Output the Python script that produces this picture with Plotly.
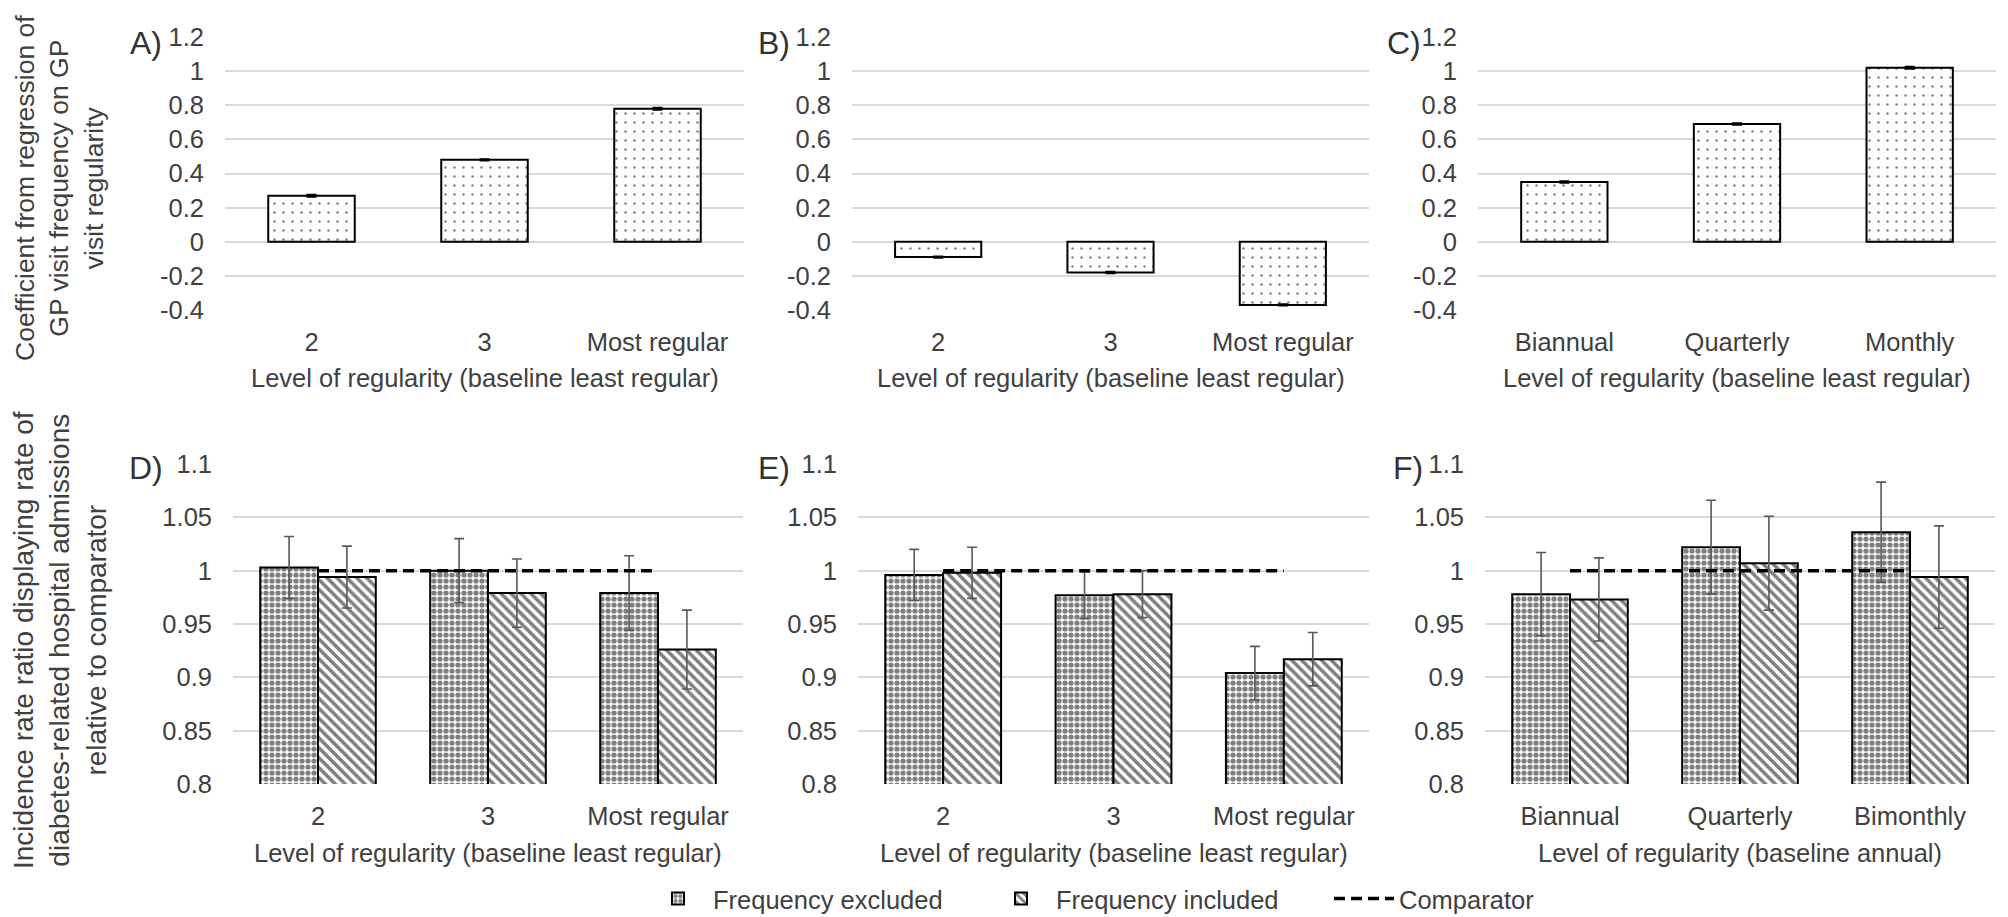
import plotly.graph_objects as go

# ---------------- data ----------------
cats_ab = ["2", "3", "Most regular"]
cats_c = ["Biannual", "Quarterly", "Monthly"]
cats_f = ["Biannual", "Quarterly", "Bimonthly"]

coef_a = [0.27, 0.48, 0.78]
coef_a_err = [0.006, 0.004, 0.006]
coef_b = [-0.09, -0.18, -0.37]
coef_b_err = [0.004, 0.004, 0.004]
coef_c = [0.35, 0.69, 1.02]
coef_c_err = [0.004, 0.004, 0.006]

irr_d_excl = [1.003, 1.000, 0.979]
irr_d_excl_err = [0.029, 0.030, 0.035]
irr_d_incl = [0.994, 0.979, 0.926]
irr_d_incl_err = [0.029, 0.032, 0.037]
irr_e_excl = [0.996, 0.977, 0.904]
irr_e_excl_err = [0.024, 0.022, 0.025]
irr_e_incl = [0.998, 0.978, 0.917]
irr_e_incl_err = [0.024, 0.022, 0.025]
irr_f_excl = [0.978, 1.022, 1.036]
irr_f_excl_err = [0.039, 0.044, 0.047]
irr_f_incl = [0.973, 1.007, 0.994]
irr_f_incl_err = [0.039, 0.044, 0.048]
comparator = [1, 1, 1]

top_tickvals = [-0.4, -0.2, 0, 0.2, 0.4, 0.6, 0.8, 1.0, 1.2]
top_ticktext = ["-0.4", "-0.2", "0", "0.2", "0.4", "0.6", "0.8", "1", "1.2"]
bot_tickvals = [0.8, 0.85, 0.9, 0.95, 1.0, 1.05, 1.1]
bot_ticktext = ["0.8", "0.85", "0.9", "0.95", "1", "1.05", "1.1"]

panel_labels = ["A)", "B)", "C)", "D)", "E)", "F)"]
xtitle_top = "Level of regularity (baseline least regular)"
xtitle_bot = ["Level of regularity (baseline least regular)",
              "Level of regularity (baseline least regular)",
              "Level of regularity (baseline annual)"]
ytitle_top = "Coefficient from regression of<br>GP visit frequency on GP<br>visit regularity"
ytitle_bot = "Incidence rate ratio displaying rate of<br>diabetes-related hospital admissions<br>relative to comparator"

# ---------------- styling ----------------
W, H = 2008, 917
OFF = 8                      # page body margin offset
FW, FH = W - OFF, H - OFF    # figure size so that it fits the window exactly
FONT = "Liberation Sans, Arial, sans-serif"
TXT = "#404040"
GRID = "#d9d9d9"
ERR = "#595959"
FS = 25.5

top_dom_px = [(225, 744), (852, 1369), (1478, 1996)]
bot_dom_px = [(233, 743), (858, 1369), (1485, 1995)]
top_y_px = (37, 310)
bot_y_px = (464, 784)


def px_x(x):
    return (x - OFF) / FW


def px_y(y):
    return 1 - (y - OFF) / FH


def xd(p):
    return [px_x(p[0]), px_x(p[1])]


def yd(p):
    return [px_y(p[1]), px_y(p[0])]


top_pattern = dict(shape=".", fgcolor="black", bgcolor="white", size=9, solidity=0.06)
excl_pattern = dict(shape=".", fgcolor="black", bgcolor="white", size=6, solidity=0.6)
incl_pattern = dict(shape="\\", fgcolor="black", bgcolor="white", size=7, solidity=0.5)

fig = go.Figure()

top_sets = [(cats_ab, coef_a, coef_a_err), (cats_ab, coef_b, coef_b_err), (cats_c, coef_c, coef_c_err)]
for i, (cats, vals, errs) in enumerate(top_sets):
    n = i + 1
    fig.add_trace(go.Bar(
        x=cats, y=vals, width=0.5,
        marker=dict(color="white", line=dict(color="black", width=2), pattern=top_pattern),
        error_y=dict(type="data", array=errs, color="black", thickness=2, width=5),
        xaxis="x" if n == 1 else f"x{n}", yaxis="y" if n == 1 else f"y{n}",
        showlegend=False,
    ))

bot_sets = [
    (cats_ab, irr_d_excl, irr_d_excl_err, irr_d_incl, irr_d_incl_err),
    (cats_ab, irr_e_excl, irr_e_excl_err, irr_e_incl, irr_e_incl_err),
    (cats_f, irr_f_excl, irr_f_excl_err, irr_f_incl, irr_f_incl_err),
]
for i, (cats, ex, exe, inc, ince) in enumerate(bot_sets):
    n = i + 4
    fig.add_trace(go.Bar(
        x=cats, y=ex, name="Frequency excluded", legendgroup="ex", showlegend=(i == 0),
        marker=dict(color="white", line=dict(color="black", width=2), pattern=excl_pattern),
        error_y=dict(type="data", array=exe, color=ERR, thickness=1.6, width=5),
        xaxis=f"x{n}", yaxis=f"y{n}",
    ))
    fig.add_trace(go.Bar(
        x=cats, y=inc, name="Frequency included", legendgroup="in", showlegend=(i == 0),
        marker=dict(color="white", line=dict(color="black", width=2), pattern=incl_pattern),
        error_y=dict(type="data", array=ince, color=ERR, thickness=1.6, width=5),
        xaxis=f"x{n}", yaxis=f"y{n}",
    ))
    fig.add_trace(go.Scatter(
        x=cats, y=comparator, mode="lines", name="Comparator", legendgroup="cmp",
        showlegend=(i == 0), line=dict(color="black", width=3.5, dash="11px,6px"),
        xaxis=f"x{n}", yaxis=f"y{n}",
    ))

layout = dict(
    width=FW, height=FH, margin=dict(l=0, r=0, t=0, b=0, autoexpand=False),
    paper_bgcolor="white", plot_bgcolor="white",
    font=dict(family=FONT, size=FS, color=TXT),
    barmode="group", bargap=0.32, bargroupgap=0,
    legend=dict(orientation="h", x=px_x(643), xanchor="left", y=px_y(899), yanchor="middle",
                font=dict(size=FS, color=TXT), entrywidth=268, entrywidthmode="pixels",
                itemwidth=60, bgcolor="rgba(0,0,0,0)"),
)

for k in range(6):
    n = k + 1
    sx = "" if n == 1 else str(n)
    top = k < 3
    xdom = xd(top_dom_px[k] if top else bot_dom_px[k - 3])
    ydom = yd(top_y_px if top else bot_y_px)
    layout["xaxis" + sx] = dict(
        domain=xdom, anchor="y" + sx, type="category", range=[-0.5, 2.5],
        showgrid=False, showline=False, zeroline=False, ticks="", automargin=False,
        ticklabelstandoff=14, tickfont=dict(size=FS, color=TXT),
    )
    layout["yaxis" + sx] = dict(
        domain=ydom, anchor="x" + sx,
        range=[-0.4, 1.2] if top else [0.8, 1.1],
        tickvals=top_tickvals if top else bot_tickvals,
        ticktext=top_ticktext if top else bot_ticktext,
        showgrid=True, gridcolor=GRID, gridwidth=2, zeroline=False, showline=False,
        ticks="", automargin=False, ticklabelstandoff=20, tickfont=dict(size=FS, color=TXT),
    )

fig.update_layout(**layout)

ann = []
label_pos = [(146, 43), (774, 43), (1404, 43), (146, 468), (774, 468), (1408, 468)]
for lab, (px, py) in zip(panel_labels, label_pos):
    ann.append(dict(text=lab, x=px_x(px), y=px_y(py), xref="paper", yref="paper",
                    showarrow=False, font=dict(size=32, color="#333333"),
                    xanchor="center", yanchor="middle"))
for k in range(3):
    cx = (top_dom_px[k][0] + top_dom_px[k][1]) / 2
    ann.append(dict(text=xtitle_top, x=px_x(cx), y=px_y(378), xref="paper", yref="paper",
                    showarrow=False, font=dict(size=FS, color=TXT), xanchor="center", yanchor="middle"))
    cxb = (bot_dom_px[k][0] + bot_dom_px[k][1]) / 2
    ann.append(dict(text=xtitle_bot[k], x=px_x(cxb), y=px_y(853), xref="paper", yref="paper",
                    showarrow=False, font=dict(size=FS, color=TXT), xanchor="center", yanchor="middle"))
ann.append(dict(text=ytitle_top, x=px_x(60), y=px_y(188), xref="paper", yref="paper",
                showarrow=False, textangle=-90, font=dict(size=26.5, color=TXT),
                xanchor="center", yanchor="middle"))
ann.append(dict(text=ytitle_bot, x=px_x(60), y=px_y(640), xref="paper", yref="paper",
                showarrow=False, textangle=-90, font=dict(size=28, color=TXT),
                xanchor="center", yanchor="middle"))
fig.update_layout(annotations=ann)

fig.write_html("out.html")
